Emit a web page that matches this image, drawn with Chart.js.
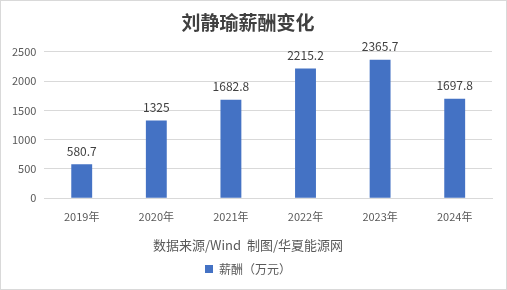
<!DOCTYPE html>
<html>
<head>
<meta charset="utf-8">
<script src="https://cdn.jsdelivr.net/npm/chart.js@4.4.0/dist/chart.umd.min.js"></script>
<style>
  html, body { margin: 0; padding: 0; background: #fff; }
  #wrap { width: 507px; height: 290px; box-sizing: border-box; border: 1px solid #d9d9d9; }
</style>
</head>
<body>
<div id="wrap"><canvas id="c" width="505" height="288"></canvas></div>
<script>
const years = ['2019年', '2020年', '2021年', '2022年', '2023年', '2024年'];
const pay = [580.7, 1325, 1682.8, 2215.2, 2365.7, 1697.8];
const payLabels = ['580.7', '1325', '1682.8', '2215.2', '2365.7', '1697.8'];

const fontFamily = '"Microsoft YaHei", "Noto Sans CJK SC", "Noto Sans", sans-serif';

// 柱子上方的数值
const valueLabels = {
    id: 'valueLabels',
    afterDatasetsDraw(chart) {
        const ctx = chart.ctx;
        const meta = chart.getDatasetMeta(0);
        ctx.save();
        ctx.fillStyle = '#404040';
        ctx.font = '12px ' + fontFamily;
        ctx.textAlign = 'center';
        ctx.textBaseline = 'bottom';
        meta.data.forEach((bar, i) => {
            ctx.fillText(payLabels[i], bar.x, bar.y - 7);
        });
        ctx.restore();
    }
};

new Chart(document.getElementById('c'), {
    type: 'bar',
    data: {
        labels: years,
        datasets: [{
            label: '薪酬（万元）',
            data: pay,
            backgroundColor: '#4472c4',
            barPercentage: 0.28,
            categoryPercentage: 1
        }]
    },
    options: {
        responsive: false,
        animation: false,
        layout: { padding: { left: 3, right: 14, top: 6, bottom: 4 } },
        plugins: {
            title: {
                display: true,
                text: '刘静瑜薪酬变化',
                color: '#404040',
                font: { family: fontFamily, size: 19, weight: 'bold' },
                padding: { top: 4, bottom: 18 }
            },
            // 数据来源放在图例上方，整幅居中
            subtitle: {
                display: true,
                position: 'bottom',
                weight: 500,
                text: '数据来源/Wind  制图/华夏能源网',
                color: '#595959',
                font: { family: fontFamily, size: 13 },
                padding: { top: 10, bottom: 4 }
            },
            legend: {
                position: 'bottom',
                labels: {
                    color: '#595959',
                    font: { family: fontFamily, size: 12 },
                    boxWidth: 8,
                    boxHeight: 8,
                    padding: 6
                }
            },
            tooltip: { enabled: false }
        },
        scales: {
            x: {
                grid: { display: false },
                border: { color: '#d9d9d9' },
                ticks: { color: '#595959', font: { family: fontFamily, size: 11 }, padding: 4 }
            },
            y: {
                min: 0,
                max: 2500,
                ticks: {
                    stepSize: 500,
                    color: '#595959',
                    font: { family: fontFamily, size: 11 },
                    padding: 8,
                    callback: v => String(v)
                },
                grid: { color: '#d9d9d9', drawTicks: false },
                border: { display: false }
            }
        }
    },
    plugins: [valueLabels]
});
</script>
</body>
</html>
